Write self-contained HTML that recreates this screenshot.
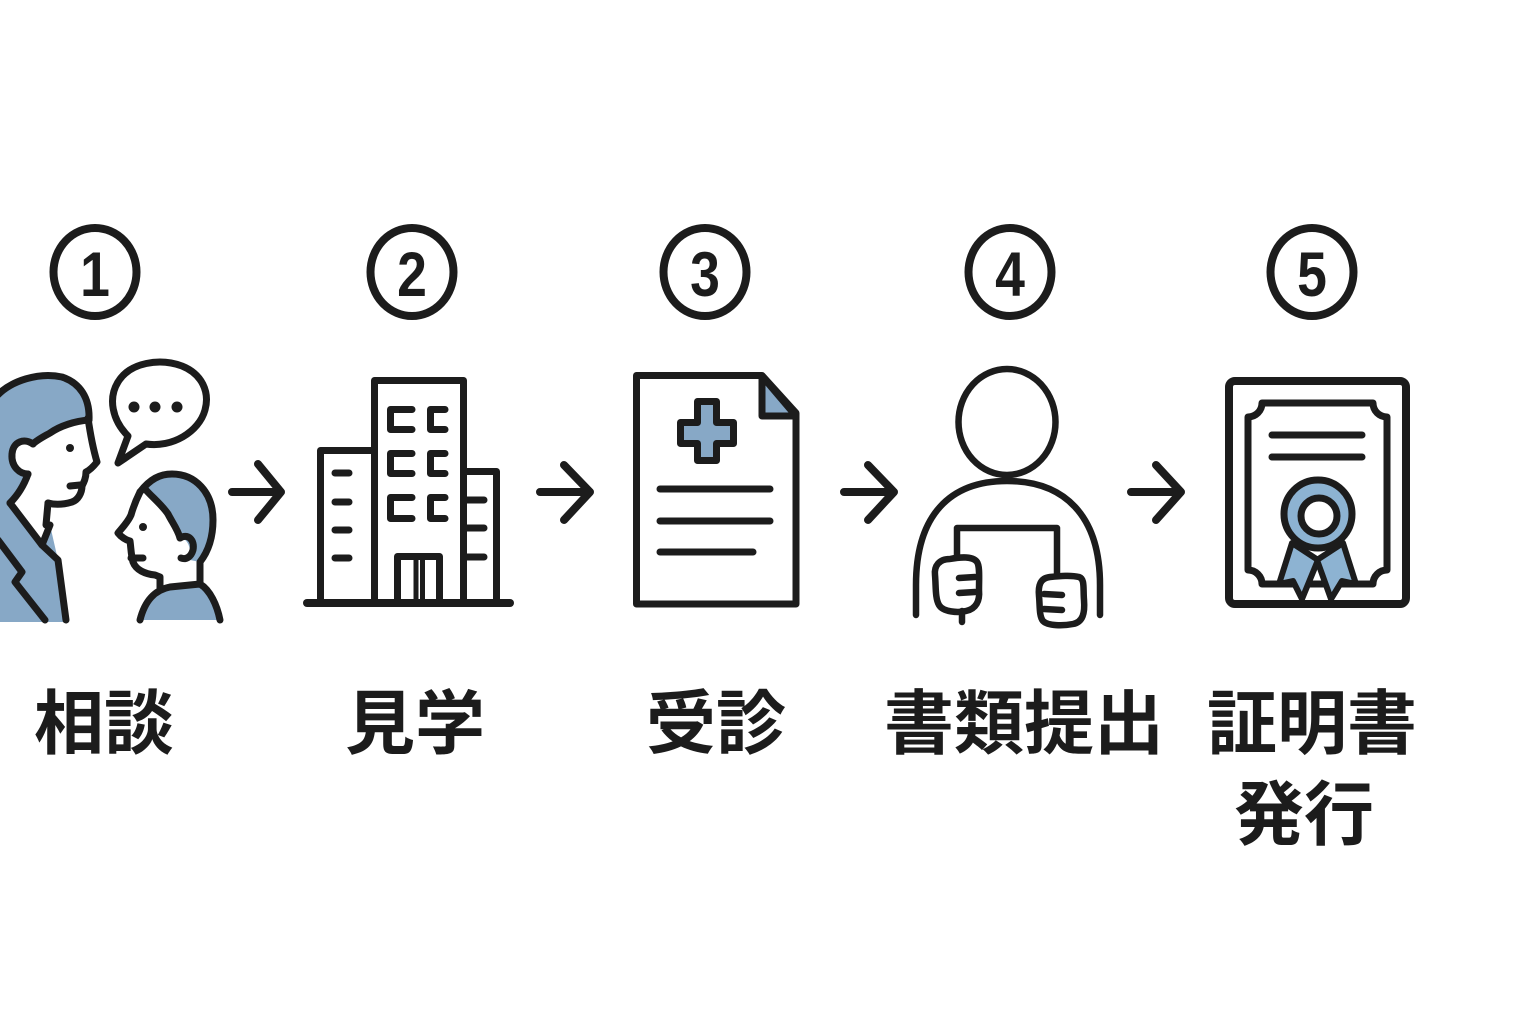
<!DOCTYPE html>
<html>
<head>
<meta charset="utf-8">
<style>
  html,body{margin:0;padding:0;background:#ffffff;}
  body{width:1536px;height:1024px;overflow:hidden;}
  svg{display:block;}
  .t{font-family:"Liberation Sans","Noto Sans CJK JP",sans-serif;font-weight:700;fill:#1c1c1c;}
  .n{font-family:"Liberation Sans",sans-serif;font-weight:700;fill:#1c1c1c;}
</style>
</head>
<body>
<svg width="1536" height="1024" viewBox="0 0 1536 1024" xmlns="http://www.w3.org/2000/svg">
  <rect x="0" y="0" width="1536" height="1024" fill="#ffffff"/>

  <g fill="none" stroke="#1c1c1c" stroke-width="8">
    <ellipse cx="95" cy="272" rx="41.5" ry="44"/>
    <ellipse cx="412" cy="272" rx="41.5" ry="44"/>
    <ellipse cx="705" cy="272" rx="41.5" ry="44"/>
    <ellipse cx="1010" cy="272" rx="41.5" ry="44"/>
    <ellipse cx="1312" cy="272" rx="41.5" ry="44"/>
  </g>
  <g class="n" font-size="63" text-anchor="middle">
    <text transform="translate(95,296) scale(0.85,1)">1</text>
    <text transform="translate(412,296) scale(0.85,1)">2</text>
    <text transform="translate(705,296) scale(0.85,1)">3</text>
    <text transform="translate(1010,296) scale(0.85,1)">4</text>
    <text transform="translate(1312,296) scale(0.85,1)">5</text>
  </g>

  <!-- arrows -->
  <g fill="none" stroke="#1c1c1c" stroke-width="8" stroke-linecap="round" stroke-linejoin="round">
    <path d="M232,492 L281,492 M258,464 L281,492 L258,520"/>
    <path d="M540,492 L590,492 M564,465 L590,492 L564,520"/>
    <path d="M844,492 L894,492 M868,465 L894,492 L868,520"/>
    <path d="M1131,492 L1181,492 M1156,465 L1181,492 L1156,520"/>
  </g>

  <!-- ICON 1: consultation -->
  <g stroke="#1c1c1c" stroke-width="7" stroke-linecap="round" stroke-linejoin="round">
    <!-- man suit -->
    <path d="M-5,503 L10,503 L42,545 L50,525 L58,560 L66,622 L-5,622 Z" fill="#87a8c6" stroke="none"/>
    <!-- man hair -->
    <path d="M-5,398 C10,380 40,372 62,377 C80,383 90,398 89,420 C75,421 60,426 50,433 C43,437 37,440 33,444 C25,438 13,441 12,454 C11,467 20,474 28,474 C24,485 18,495 10,503 L-5,503 Z" fill="#87a8c6" stroke="none"/>
    <g fill="none">
      <path d="M-5,398 C10,380 40,372 62,377 C80,383 90,398 89,420"/>
      <path d="M89,420 C75,421 60,426 50,433 C43,437 37,440 33,444"/>
      <path d="M33,444 C25,438 13,441 12,454 C11,467 20,474 28,474"/>
      <path d="M88,418 C90,432 92,445 97,462 C93,467 90,470 86,472 C86,478 84,482 82,486 C82,493 78,500 72,502 C62,505 55,505 48,503"/>
      <path d="M70,486 L80,485"/>
      <path d="M48,503 L46,525"/>
      <path d="M28,474 C24,485 18,495 10,503"/>
      <path d="M10,503 L42,545 L50,525"/>
      <path d="M42,545 L58,560 L66,620"/>
      <path d="M-2,540 L22,572 L15,582 L45,620"/>
    </g>
    <circle cx="70" cy="448" r="4" fill="#1c1c1c" stroke="none"/>

    <!-- speech bubble -->
    <path d="M128,436 C112,420 108,398 118,382 C130,362 160,358 182,366 C202,374 210,392 205,410 C199,432 172,448 146,444 L118,463 Z" fill="#ffffff"/>
    <circle cx="134" cy="407" r="5.5" fill="#1c1c1c" stroke="none"/>
    <circle cx="155" cy="407" r="5.5" fill="#1c1c1c" stroke="none"/>
    <circle cx="177" cy="407" r="5.5" fill="#1c1c1c" stroke="none"/>

    <!-- boy body -->
    <path d="M140,620 C145,600 155,590 170,587 L200,584 C210,590 217,605 220,620 Z" fill="#87a8c6" stroke="none"/>
    <path d="M140,620 C145,600 155,590 170,587 L200,584 C210,590 217,605 220,620" fill="none"/>
    <!-- boy hair -->
    <path d="M145,489 C150,478 162,474 172,474 C195,474 213,492 213,520 C213,540 207,553 200,562 L190,560 C192,550 188,538 180,538 C178,530 172,522 168,514 C162,505 152,497 145,489 Z" fill="#87a8c6" stroke="none"/>
    <g fill="none">
      <path d="M140,492 C150,479 160,474 172,474 C195,474 213,492 213,520 C213,540 207,553 200,562 L200,584"/>
      <path d="M140,492 C136,500 133,508 131,515 C128,522 122,528 118,533 C121,537 126,540 130,541 C131,548 131,555 133,562 C136,570 145,574 155,575 L160,577 L160,588"/>
      <path d="M131,558 L143,558"/>
      <path d="M145,489 C152,497 162,505 168,514 C172,522 178,530 180,538"/>
      <path d="M180,538 C188,533 195,540 193,550 C191,557 186,560 181,558"/>
    </g>
    <circle cx="143" cy="527" r="4" fill="#1c1c1c" stroke="none"/>
  </g>

  <!-- ICON 2: building -->
  <g fill="none" stroke="#1c1c1c" stroke-width="7" stroke-linecap="round" stroke-linejoin="round">
    <path d="M374.5,603 L374.5,380.5 L463.5,380.5 L463.5,603"/>
    <path d="M320.5,603 L320.5,450.5 L374.5,450.5"/>
    <path d="M463.5,471.5 L496.5,471.5 L496.5,603"/>
    <path d="M307,603 L510,603" stroke-width="8"/>
    <path d="M412,409.5 L390.5,409.5 L390.5,429.5 L412,429.5"/>
    <path d="M445,409.5 L430.5,409.5 L430.5,429.5 L445,429.5"/>
    <path d="M412,453.5 L390.5,453.5 L390.5,473.5 L412,473.5"/>
    <path d="M445,453.5 L430.5,453.5 L430.5,473.5 L445,473.5"/>
    <path d="M412,497.5 L390.5,497.5 L390.5,518.5 L412,518.5"/>
    <path d="M445,497.5 L430.5,497.5 L430.5,518.5 L445,518.5"/>
    <path d="M335,473 L349,473 M335,502 L349,502 M335,530 L349,530 M335,558 L349,558"/>
    <path d="M467,500 L484,500 M467,528 L484,528 M467,557 L484,557"/>
    <path d="M397.5,603 L397.5,556.5 L439.5,556.5 L439.5,603"/>
    <path d="M416,558 L416,603 M422.5,558 L422.5,603" stroke-width="5"/>
  </g>

  <!-- ICON 3: medical document -->
  <g stroke="#1c1c1c" stroke-width="7" stroke-linecap="round" stroke-linejoin="round">
    <path d="M636.5,375.5 L762,375.5 L796,413 L796,604 L636.5,604 Z" fill="#ffffff"/>
    <path d="M762,376 L762,416 L796,416 Z" fill="#87a8c6"/>
    <path d="M697.5,401.5 L716.5,401.5 L716.5,422.5 L733.5,422.5 L733.5,443.5 L716.5,443.5 L716.5,460.5 L697.5,460.5 L697.5,443.5 L680.5,443.5 L680.5,422.5 L697.5,422.5 Z" fill="#87a8c6"/>
    <path d="M660,489 L770,489 M660,521 L770,521 M660,552 L753,552" fill="none"/>
  </g>

  <!-- ICON 4: person holding document -->
  <g fill="none" stroke="#1c1c1c" stroke-width="6.5" stroke-linecap="round" stroke-linejoin="round">
    <ellipse cx="1007" cy="422" rx="48.5" ry="53"/>
    <path d="M916,615 L916,585 C916,515 950,481 1007,481 C1064,481 1100,515 1100,585 L1100,615"/>
    <path d="M957,560 L957,528 L1057,528 L1057,577"/>
    <path d="M950,559 C939,559 934,566 935,575 C936,586 935,598 939,605 C943,612 958,613 966,611 C976,609 980,601 979,590 C979,579 980,566 977,562 C973,556 960,557 950,559 Z" fill="#ffffff"/>
    <path d="M959,578 L975,577 M959,593 L975,592"/>
    <path d="M962,611 L962,622"/>
    <path d="M1050,577 C1040,578 1038,586 1039,596 C1040,606 1039,616 1043,621 C1048,626 1063,626 1073,624 C1083,622 1085,613 1084,600 C1083,588 1085,579 1079,577 C1071,575 1060,576 1050,577 Z" fill="#ffffff"/>
    <path d="M1044,594 L1062,595 M1044,609 L1062,610"/>
  </g>

  <!-- ICON 5: certificate -->
  <g stroke="#1c1c1c" stroke-linecap="round" stroke-linejoin="round">
    <rect x="1229" y="381" width="177" height="223" rx="6" fill="#ffffff" stroke-width="8"/>
    <path d="M1262,403 L1373,403 A14,14 0 0 0 1387,417 L1387,570 A14,14 0 0 0 1373,584 L1262,584 A14,14 0 0 0 1248,570 L1248,417 A14,14 0 0 0 1262,403 Z" fill="#ffffff" stroke-width="7"/>
    <path d="M1272,435 L1362,435 M1272,457 L1362,457" fill="none" stroke-width="7"/>
    <path d="M1292,543 L1279,584 L1293,581 L1302,599 L1318,560 Z" fill="#8db3d2" stroke-width="6"/>
    <path d="M1343,543 L1356,584 L1342,581 L1331,599 L1317,560 Z" fill="#8db3d2" stroke-width="6"/>
    <circle cx="1318" cy="514" r="34" fill="#8db3d2" stroke-width="7"/>
    <circle cx="1319" cy="516" r="18" fill="#ffffff" stroke-width="7"/>
  </g>

  <!-- labels -->
  <g class="t" font-size="70" text-anchor="middle">
    <text x="104" y="748">相談</text>
    <text x="415" y="748">見学</text>
    <text x="716" y="748">受診</text>
    <text x="1024" y="748">書類提出</text>
    <text x="1312" y="748">証明書</text>
    <text x="1304" y="839">発行</text>
  </g>
</svg>
</body>
</html>
